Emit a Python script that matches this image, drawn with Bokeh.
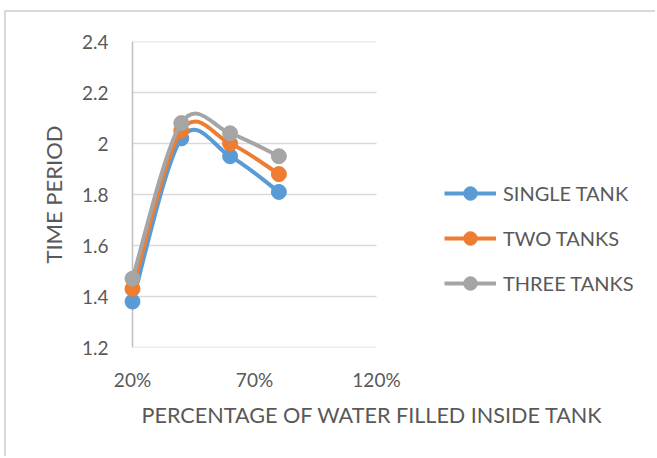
from bokeh.plotting import figure
from bokeh.models import (Range1d, FixedTicker, NumeralTickFormatter, CustomJSTickFormatter,
                          Legend, LegendItem, Title)
from bokeh.embed import file_html
from bokeh.resources import INLINE

# Water fill level (fraction of tank height) and measured time periods
fill_levels = [0.2, 0.4, 0.6, 0.8]
single_tank = [1.38, 2.02, 1.95, 1.81]
two_tanks = [1.43, 2.05, 2.00, 1.88]
three_tanks = [1.47, 2.08, 2.04, 1.95]

series_names = ["SINGLE TANK", "TWO TANKS", "THREE TANKS"]
series_colors = ["#5B9BD5", "#ED7D31", "#A5A5A5"]

x_ticks = [0.2, 0.7, 1.2]
y_ticks = [1.2, 1.4, 1.6, 1.8, 2.0, 2.2, 2.4]

FONT = "Lato"
TEXT = "#595959"
GRID = "#d9d9d9"
AXIS = "#bfbfbf"


def smooth_segments(xs, ys, k=1.0 / 6.0):
    """Cubic Bezier segments through the points (Catmull-Rom style smoothing)."""
    n = len(xs)
    segs = {"x0": [], "y0": [], "x1": [], "y1": [], "cx0": [], "cy0": [], "cx1": [], "cy1": []}
    for i in range(n - 1):
        xp, yp = (xs[i - 1], ys[i - 1]) if i > 0 else (xs[i], ys[i])
        xn, yn = (xs[i + 2], ys[i + 2]) if i + 2 < n else (xs[i + 1], ys[i + 1])
        segs["x0"].append(xs[i]); segs["y0"].append(ys[i])
        segs["x1"].append(xs[i + 1]); segs["y1"].append(ys[i + 1])
        segs["cx0"].append(xs[i] + (xs[i + 1] - xp) * k)
        segs["cy0"].append(ys[i] + (ys[i + 1] - yp) * k)
        segs["cx1"].append(xs[i + 1] - (xn - xs[i]) * k)
        segs["cy1"].append(ys[i + 1] - (yn - ys[i]) * k)
    return segs


# canvas and plotting-area geometry (pixels)
W, H = 651, 446
PAD = 10                      # spare room left of the value axis so edge markers are not clipped
LEFT, TOP, BOTTOM = 126 - PAD, 29, 111
AXIS_PX = 244                 # width of the 20%..120% axis span
frame_w = W - LEFT
x_min, x_max = x_ticks[0], x_ticks[-1]
x_start = x_min - (x_max - x_min) * PAD / AXIS_PX
x_end = x_start + (x_max - x_min) * frame_w / AXIS_PX   # room on the right for the legend
y_min, y_max = y_ticks[0], y_ticks[-1]

p = figure(width=W, height=H, output_backend="svg", toolbar_location=None,
           x_range=Range1d(x_start, x_end), y_range=Range1d(y_min, y_max),
           min_border_left=LEFT, min_border_right=0, min_border_top=TOP, min_border_bottom=BOTTOM,
           styles={"margin-left": "4px", "margin-top": "10px",
                   "border-left": "2px solid #d9d9d9", "border-top": "2px solid #d9d9d9"})
p.outline_line_color = None
p.background_fill_color = "white"
p.border_fill_color = "white"

# horizontal gridlines across the 20%..120% span only, and the value-axis line at 20%
p.xgrid.grid_line_color = None
p.ygrid.grid_line_color = None
p.segment(x0=x_min, x1=x_max, y0=y_ticks, y1=y_ticks, line_color=GRID, line_width=1.3)
p.segment(x0=[x_min], x1=[x_min], y0=[y_min], y1=[y_max], line_color=AXIS, line_width=1.5)

# x axis
xa = p.xaxis[0]
xa.ticker = FixedTicker(ticks=x_ticks)
xa.formatter = NumeralTickFormatter(format="0%")
xa.axis_line_color = None
xa.major_tick_line_color = None
xa.minor_tick_line_color = None
xa.major_label_standoff = 14
xa.major_label_text_font = FONT
xa.major_label_text_font_size = "19px"
xa.major_label_text_color = TEXT

# x axis title, placed under the axis and shifted right
x_title = Title(text="PERCENTAGE OF WATER FILLED INSIDE TANK", align="left", offset=9 + PAD,
                text_font=FONT, text_font_size="21.6px", text_font_style="normal",
                text_color=TEXT, standoff=12)
p.add_layout(x_title, "below")

# y axis
ya = p.yaxis[0]
ya.ticker = FixedTicker(ticks=y_ticks)
ya.formatter = CustomJSTickFormatter(code="return tick.toFixed(1).replace(/\\.0$/, '');")
ya.axis_line_color = None
ya.major_tick_line_color = None
ya.minor_tick_line_color = None
ya.major_label_standoff = 18 - PAD
ya.major_label_text_font = FONT
ya.major_label_text_font_size = "19px"
ya.major_label_text_color = TEXT
ya.axis_label = "TIME PERIOD"
ya.axis_label_text_font = FONT
ya.axis_label_text_font_size = "22px"
ya.axis_label_text_font_style = "normal"
ya.axis_label_text_color = TEXT
ya.axis_label_standoff = 12

nan = float("nan")
items = []
for name, color, vals in zip(series_names, series_colors, [single_tank, two_tanks, three_tanks]):
    segs = smooth_segments(fill_levels, vals)
    p.bezier(x0="x0", y0="y0", x1="x1", y1="y1", cx0="cx0", cy0="cy0", cx1="cx1", cy1="cy1",
             source=segs, line_color=color, line_width=4, line_cap="round")
    mk = p.scatter(fill_levels, vals, size=15, marker="circle", fill_color=color, line_color=color)
    # placeholder line renderer (no drawable points): supplies the line swatch in the legend
    swatch = p.line(x=[nan], y=[nan], line_color=color, line_width=4)
    items.append(LegendItem(label=name, renderers=[swatch, mk]))

legend = Legend(items=items, location=(312 + PAD, 47), orientation="vertical",
                glyph_width=52, glyph_height=34, spacing=11, label_standoff=7,
                padding=0, margin=0, border_line_color=None, background_fill_alpha=0,
                label_text_font=FONT, label_text_font_size="20px", label_text_color=TEXT)
p.add_layout(legend, "center")

open("out.html", "w").write(file_html(p, INLINE))
